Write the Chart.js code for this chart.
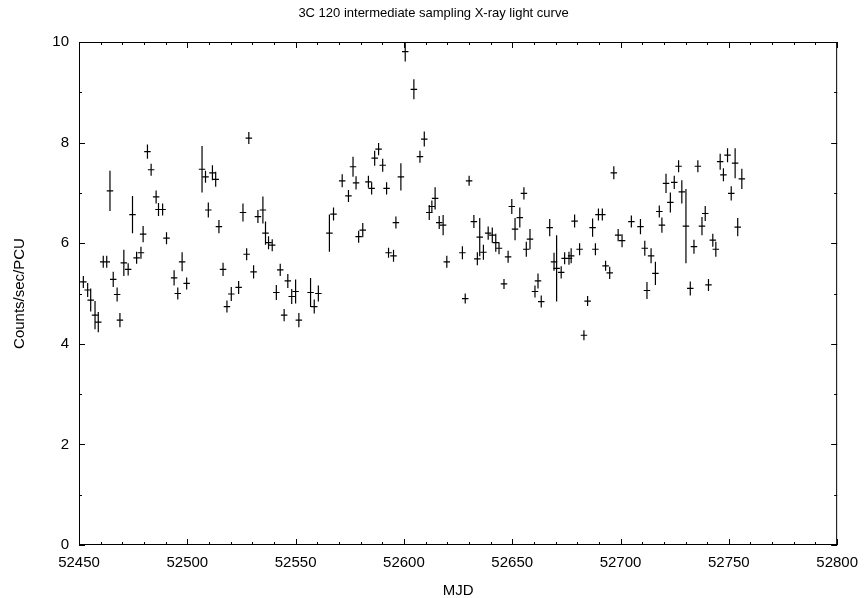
<!DOCTYPE html>
<html>
<head>
  <meta charset="utf-8" />
  <title>3C 120 light curve</title>
  <style>
    body { margin: 0; background: #fff; }
    canvas { display: block; }
  </style>
</head>
<body>
  <canvas id="lc" width="867" height="598"></canvas>

  <script src="https://cdn.jsdelivr.net/npm/chart.js"></script>
  <script>
    // light curve points
    const mjd = [
      52452.0, 52454.0, 52455.4, 52457.4, 52458.9, 52461.2, 52462.8, 52464.3, 52465.8, 52467.6,
      52468.9, 52470.7, 52472.7, 52474.7, 52476.6, 52478.6, 52479.6, 52481.6, 52483.3, 52485.6,
      52486.7, 52488.6, 52490.4, 52493.9, 52495.6, 52497.6, 52499.7, 52506.8, 52508.4, 52509.7,
      52511.6, 52513.1, 52514.6, 52516.5, 52518.3, 52520.3, 52523.7, 52525.7, 52527.4, 52528.4,
      52530.6, 52532.6, 52534.9, 52536.1, 52537.5, 52539.2, 52541.1, 52542.9, 52544.7, 52546.4,
      52548.2, 52550.0, 52551.5, 52556.9, 52558.6, 52560.5, 52565.6, 52567.5, 52571.5, 52574.4,
      52576.5, 52577.9, 52579.1, 52581.0, 52583.6, 52585.1, 52586.5, 52588.3, 52590.2, 52592.0,
      52592.9, 52595.2, 52596.3, 52598.6, 52600.6, 52604.6, 52607.4, 52609.4, 52611.7, 52612.9,
      52614.4, 52616.3, 52618.1, 52619.8, 52627.0, 52628.3, 52630.1, 52632.3, 52633.9, 52635.0,
      52636.7, 52638.9, 52640.8, 52642.4, 52643.9, 52646.2, 52648.1, 52649.8, 52651.3, 52653.5,
      52655.4, 52656.5, 52658.2, 52660.5, 52661.9, 52663.4, 52667.3, 52669.3, 52670.5, 52672.6,
      52674.2, 52676.2, 52677.2, 52678.8, 52681.1, 52683.1, 52684.8, 52687.1, 52688.4, 52689.8,
      52691.6, 52693.1, 52695.0, 52696.9, 52698.9, 52700.7, 52705.0, 52709.2, 52711.2, 52712.2,
      52714.1, 52716.1, 52717.9, 52719.1, 52721.0, 52723.0, 52724.8, 52726.8, 52728.3, 52730.2,
      52732.2, 52733.9, 52735.7, 52737.6, 52739.1, 52740.6, 52742.6, 52744.0, 52746.0, 52747.5,
      52749.4, 52751.1, 52752.9, 52754.1, 52756.0
    ];
    const rate = [
      5.23, 5.07, 4.87, 4.57, 4.43, 5.63, 5.63, 7.04, 5.28, 4.98,
      4.47, 5.61, 5.48, 6.57, 5.71, 5.81, 6.18, 7.82, 7.46, 6.92,
      6.67, 6.67, 6.10, 5.31, 5.00, 5.63, 5.20, 7.47, 7.32, 6.66,
      7.40, 7.27, 6.33, 5.48, 4.74, 4.99, 5.12, 6.61, 5.78, 8.09,
      5.43, 6.53, 6.66, 6.20, 6.01, 5.96, 5.02, 5.47, 4.57, 5.25,
      4.94, 5.04, 4.47, 5.02, 4.74, 5.00, 6.20, 6.58, 7.24, 6.94,
      7.52, 7.20, 6.13, 6.26, 7.22, 7.09, 7.69, 7.87, 7.55, 7.09,
      5.81, 5.75, 6.41, 7.32, 9.81, 9.06, 7.72, 8.07, 6.61, 6.73,
      6.89, 6.41, 6.36, 5.63, 5.81, 4.90, 7.24, 6.43, 5.69, 6.12,
      5.82, 6.20, 6.16, 6.01, 5.90, 5.19, 5.73, 6.73, 6.28, 6.51,
      6.99, 5.88, 6.08, 5.04, 5.25, 4.84, 6.31, 5.63, 5.50, 5.42,
      5.70, 5.70, 5.75, 6.44, 5.88, 4.17, 4.85, 6.31, 5.88, 6.57,
      6.57, 5.55, 5.41, 7.40, 6.16, 6.05, 6.43, 6.33, 5.90, 5.06,
      5.75, 5.40, 6.63, 6.36, 7.19, 6.81, 7.21, 7.53, 7.02, 6.34,
      5.10, 5.93, 7.53, 6.34, 6.59, 5.17, 6.06, 5.88, 7.62, 7.36,
      7.75, 6.99, 7.59, 6.32, 7.28
    ];
    const rateErr = [
      0.12, 0.14, 0.23, 0.28, 0.20, 0.12, 0.12, 0.40, 0.15, 0.14,
      0.14, 0.26, 0.12, 0.37, 0.12, 0.12, 0.16, 0.14, 0.12, 0.13,
      0.13, 0.12, 0.12, 0.15, 0.12, 0.19, 0.12, 0.46, 0.12, 0.15,
      0.15, 0.15, 0.13, 0.13, 0.12, 0.14, 0.13, 0.18, 0.12, 0.12,
      0.13, 0.13, 0.27, 0.23, 0.13, 0.12, 0.15, 0.12, 0.12, 0.14,
      0.15, 0.24, 0.14, 0.29, 0.14, 0.16, 0.37, 0.13, 0.13, 0.12,
      0.20, 0.13, 0.12, 0.14, 0.12, 0.12, 0.15, 0.12, 0.13, 0.12,
      0.10, 0.12, 0.12, 0.27, 0.20, 0.20, 0.12, 0.15, 0.15, 0.12,
      0.22, 0.13, 0.20, 0.12, 0.13, 0.10, 0.10, 0.13, 0.13, 0.38,
      0.15, 0.13, 0.15, 0.18, 0.12, 0.10, 0.12, 0.15, 0.22, 0.20,
      0.12, 0.15, 0.20, 0.12, 0.15, 0.12, 0.17, 0.18, 0.66, 0.12,
      0.12, 0.13, 0.15, 0.13, 0.12, 0.10, 0.10, 0.18, 0.12, 0.12,
      0.12, 0.10, 0.12, 0.13, 0.12, 0.13, 0.12, 0.15, 0.15, 0.17,
      0.15, 0.23, 0.12, 0.15, 0.19, 0.20, 0.13, 0.12, 0.23, 0.74,
      0.14, 0.14, 0.12, 0.18, 0.15, 0.12, 0.13, 0.15, 0.16, 0.13,
      0.14, 0.14, 0.30, 0.18, 0.20
    ];
    const binHalf = 1.5; // half width of the time bins (days)

    const xRange = [52450, 52800];
    const yRange = [0, 10];
    const xStep = 50, xMinor = 10;
    const yStep = 2, yMinor = 1;

    const fontFam = "'Liberation Sans', Arial, Helvetica, sans-serif";

    // error bars as short line segments, null breaks the line between them
    const vBars = [], hBars = [];
    for (let i = 0; i < mjd.length; i++) {
      vBars.push({x: mjd[i], y: rate[i] - rateErr[i]}, {x: mjd[i], y: rate[i] + rateErr[i]}, {x: mjd[i], y: null});
      hBars.push({x: mjd[i] - binHalf, y: rate[i]}, {x: mjd[i] + binHalf, y: rate[i]}, {x: mjd[i], y: null});
    }

    // gnuplot style box with inward ticks on all four sides
    const frameTicks = {
      id: 'frameTicks',
      afterDraw(chart) {
        const {ctx, chartArea: a, scales: {x, y}} = chart;
        ctx.save();
        ctx.strokeStyle = '#000';
        ctx.lineWidth = 1;
        ctx.strokeRect(a.left + 0.5, a.top + 0.5, a.right - a.left - 1, a.bottom - a.top - 1);
        ctx.beginPath();
        for (let v = xRange[0]; v <= xRange[1]; v += xMinor) {
          const px = Math.round(x.getPixelForValue(v)) + 0.5;
          const len = (v - xRange[0]) % xStep === 0 ? 6 : 3;
          ctx.moveTo(px, a.bottom); ctx.lineTo(px, a.bottom - len);
          ctx.moveTo(px, a.top); ctx.lineTo(px, a.top + len);
        }
        for (let v = yRange[0]; v <= yRange[1]; v += yMinor) {
          const py = Math.round(y.getPixelForValue(v)) + 0.5;
          const len = v % yStep === 0 ? 6 : 3;
          ctx.moveTo(a.left, py); ctx.lineTo(a.left + len, py);
          ctx.moveTo(a.right, py); ctx.lineTo(a.right - len, py);
        }
        ctx.stroke();
        ctx.restore();
      }
    };

    const barStyle = {
      showLine: true,
      borderColor: '#000',
      borderWidth: 1.2,
      pointRadius: 0,
      pointHoverRadius: 0,
      spanGaps: false
    };

    new Chart(document.getElementById('lc'), {
      type: 'scatter',
      data: {
        datasets: [
          Object.assign({label: 'rate', data: vBars}, barStyle),
          Object.assign({label: 'bin', data: hBars}, barStyle)
        ]
      },
      options: {
        responsive: false,
        animation: false,
        // same padding both sides so the title is centred on the page
        layout: {padding: {left: 28, right: 28, top: 0, bottom: 0}},
        plugins: {
          legend: {display: false},
          tooltip: {enabled: false},
          title: {
            display: true,
            text: '3C 120 intermediate sampling X-ray light curve',
            color: '#000',
            font: {family: fontFam, size: 13, weight: 'normal'},
            padding: {top: 6, bottom: 20.4}
          }
        },
        scales: {
          x: {
            type: 'linear',
            min: xRange[0],
            max: xRange[1],
            grid: {display: false, drawTicks: false},
            border: {display: false},
            ticks: {
              stepSize: xStep,
              color: '#000',
              padding: 9,
              maxRotation: 0,
              font: {family: fontFam, size: 15},
              callback: v => String(v)
            },
            title: {
              display: true,
              text: 'MJD',
              color: '#000',
              font: {family: fontFam, size: 15, lineHeight: 1},
              padding: {top: 0, bottom: 0}
            },
            afterFit: s => { s.height = 53; }
          },
          y: {
            type: 'linear',
            min: yRange[0],
            max: yRange[1],
            grid: {display: false, drawTicks: false},
            border: {display: false},
            ticks: {
              stepSize: yStep,
              color: '#000',
              padding: 10,
              font: {family: fontFam, size: 15}
            },
            title: {
              display: true,
              text: 'Counts/sec/PCU',
              color: '#000',
              font: {family: fontFam, size: 15, lineHeight: 1.2},
              padding: {top: -17, bottom: 0}
            },
            afterFit: s => { s.width = 51; }
          }
        }
      },
      plugins: [frameTicks]
    });
  </script>
</body>
</html>
